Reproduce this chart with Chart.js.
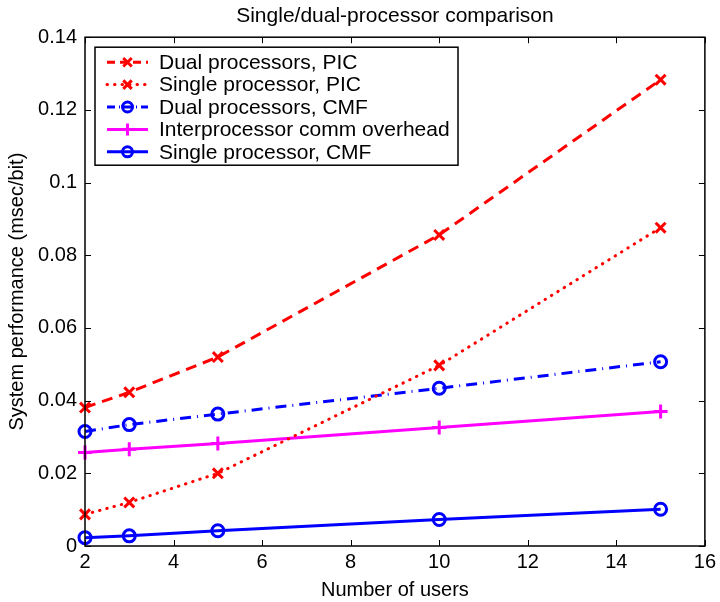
<!DOCTYPE html>
<html>
<head>
<meta charset="utf-8">
<script src="https://cdn.jsdelivr.net/npm/chart.js@4/dist/chart.umd.min.js"></script>
<style>
  body { margin: 0; background: #fff; }
  #wrap { width: 720px; height: 602px; }
</style>
</head>
<body>
<div id="wrap"><canvas id="myChart" width="720" height="602"></canvas></div>
<script>
// data
const users = [2, 3, 5, 10, 15];
const dualPIC = [0.0381, 0.0423, 0.0520, 0.0856, 0.1283];
const singlePIC = [0.0087, 0.0120, 0.0200, 0.0497, 0.0876];
const dualCMF = [0.0315, 0.0334, 0.0363, 0.0434, 0.0507];
const commOverhead = [0.0257, 0.0266, 0.0282, 0.0326, 0.0370];
const singleCMF = [0.0023, 0.0028, 0.0042, 0.0073, 0.0101];
const xTicks = [2, 4, 6, 8, 10, 12, 14, 16];
const yTicks = [0, 0.02, 0.04, 0.06, 0.08, 0.1, 0.12, 0.14];

const FONT = "'Liberation Sans', Arial, Helvetica, sans-serif";
const pts = arr => arr.map((v, i) => ({x: users[i], y: v}));

function series(label, data, color, dash, legendDash, marker) {
    return {
        label: label,
        data: pts(data),
        borderColor: color,
        backgroundColor: 'rgba(0,0,0,0)',
        borderWidth: 3,
        borderDash: dash,
        legendDash: legendDash,
        borderCapStyle: dash.length && dash[0] < 4 ? 'round' : 'butt',
        pointStyle: marker,
        pointRadius: marker === 'circle' ? 6 : 7,
        pointBorderWidth: 3,
        pointBorderColor: color,
        pointBackgroundColor: 'rgba(0,0,0,0)',
        tension: 0
    };
}

const datasets = [
    series('Dual processors, PIC', dualPIC, '#ff0000', [11, 7], [8, 5], 'crossRot'),
    series('Single processor, PIC', singlePIC, '#ff0000', [0.5, 7], [0.5, 7], 'crossRot'),
    series('Dual processors, CMF', dualCMF, '#0000ff', [11, 6, 1, 6], [8, 4, 1, 4], 'circle'),
    series('Interprocessor comm overhead', commOverhead, '#ff00ff', [], [], 'cross'),
    series('Single processor, CMF', singleCMF, '#0000ff', [], [], 'circle')
];

// box, inward ticks and legend drawn inside the plot area (MATLAB style)
const boxPlugin = {
    id: 'boxPlugin',
    afterDatasetsDraw(chart) {
        const ctx = chart.ctx;
        const a = chart.chartArea;
        const xs = chart.scales.x, ys = chart.scales.y;
        ctx.save();
        ctx.strokeStyle = '#000';
        ctx.lineWidth = 1;
        ctx.beginPath();
        xTicks.forEach(t => {
            const px = Math.round(xs.getPixelForValue(t)) + 0.5;
            ctx.moveTo(px, a.bottom); ctx.lineTo(px, a.bottom - 6);
            ctx.moveTo(px, a.top); ctx.lineTo(px, a.top + 6);
        });
        yTicks.forEach(t => {
            const py = Math.round(ys.getPixelForValue(t)) + 0.5;
            ctx.moveTo(a.left, py); ctx.lineTo(a.left + 6, py);
            ctx.moveTo(a.right, py); ctx.lineTo(a.right - 6, py);
        });
        ctx.stroke();
        ctx.lineWidth = 1.5;
        ctx.strokeRect(a.left, a.top, a.right - a.left, a.bottom - a.top);

        // legend
        const lx = a.left + 10, ly = a.top + 10, lw = 363, lh = 118;
        ctx.fillStyle = '#fff';
        ctx.fillRect(lx, ly, lw, lh);
        ctx.lineWidth = 1.5;
        ctx.strokeRect(lx, ly, lw, lh);
        ctx.font = '21px ' + FONT;
        ctx.textBaseline = 'middle';
        chart.data.datasets.forEach((ds, i) => {
            const y = ly + 15 + i * 22.4;
            const x0 = lx + 12, x1 = lx + 53, xm = (x0 + x1) / 2;
            ctx.strokeStyle = ds.borderColor;
            ctx.lineWidth = 3;
            ctx.lineCap = ds.borderCapStyle;
            ctx.setLineDash(ds.legendDash);
            ctx.beginPath();
            ctx.moveTo(x0, y); ctx.lineTo(x1, y);
            ctx.stroke();
            ctx.setLineDash([]);
            ctx.lineCap = 'butt';
            ctx.fillStyle = 'rgba(0,0,0,0)';
            Chart.helpers.drawPoint(ctx, {
                pointStyle: ds.pointStyle, radius: ds.pointStyle === 'circle' ? 5 : 6, borderWidth: 3, rotation: 0
            }, xm, y);
            ctx.fillStyle = '#000';
            ctx.fillText(ds.label, lx + 64, y + 1);
        });
        ctx.restore();
    }
};

new Chart(document.getElementById('myChart').getContext('2d'), {
    type: 'line',
    data: { datasets: datasets },
    options: {
        responsive: false,
        animation: false,
        clip: false,
        layout: { padding: { top: 0, right: 13, left: 0, bottom: 0 } },
        plugins: {
            legend: { display: false },
            tooltip: { enabled: false },
            title: {
                display: true,
                fullSize: false,
                text: 'Single/dual-processor comparison',
                color: '#000',
                font: { family: FONT, size: 21, weight: 'normal', lineHeight: 1.2 },
                padding: { top: 4, bottom: 8 }
            }
        },
        scales: {
            x: {
                type: 'linear',
                min: 2, max: 16,
                afterBuildTicks: s => { s.ticks = xTicks.map(v => ({value: v})); },
                afterFit: s => { s.height = 56; },
                grid: { display: false, drawTicks: false },
                border: { display: false },
                ticks: { color: '#000', font: { family: FONT, size: 20 }, padding: 4, maxRotation: 0 },
                title: { display: true, text: 'Number of users', color: '#000', font: { family: FONT, size: 20 }, padding: { top: 2, bottom: 0 } }
            },
            y: {
                type: 'linear',
                min: 0, max: 0.14,
                afterBuildTicks: s => { s.ticks = yTicks.map(v => ({value: v})); },
                afterFit: s => { s.width = 85; },
                grid: { display: false, drawTicks: false },
                border: { display: false },
                ticks: {
                    color: '#000', font: { family: FONT, size: 20 }, padding: 8,
                    callback: v => String(+Number(v).toFixed(2))
                },
                title: { display: true, text: 'System performance (msec/bit)', color: '#000', font: { family: FONT, size: 20 }, padding: { top: 5, bottom: 2 } }
            }
        }
    },
    plugins: [boxPlugin]
});
</script>
</body>
</html>
